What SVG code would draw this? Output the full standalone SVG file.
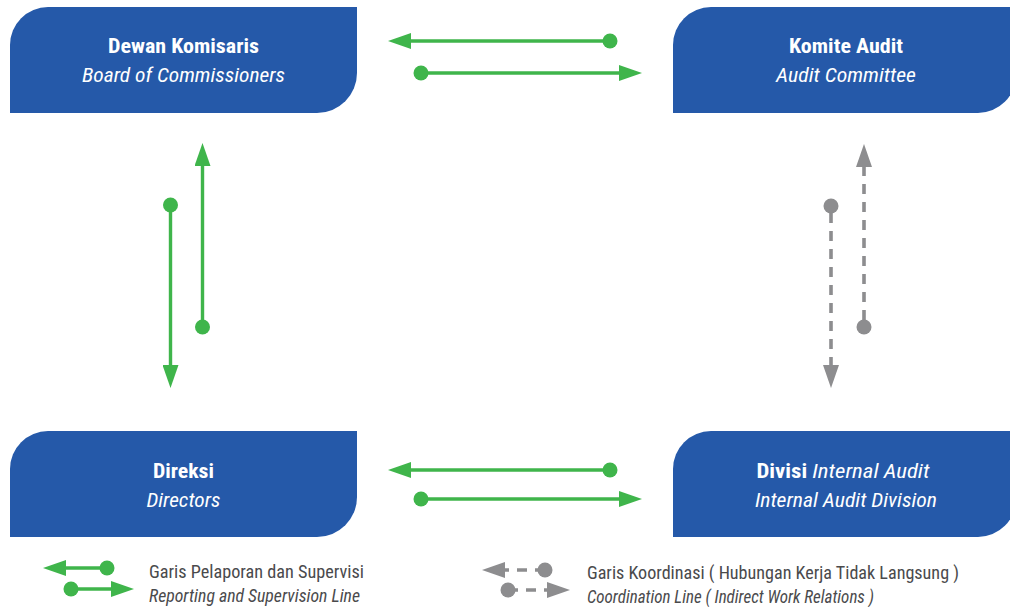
<svg xmlns="http://www.w3.org/2000/svg" width="1010" height="607" viewBox="0 0 1010 607">
  <style>
    .box { fill: #2559a9; }
    .title { font-family: "Roboto Condensed", Roboto, "Liberation Sans", sans-serif; font-size: 21px; font-weight: 700; fill: #ffffff; text-anchor: middle; }
    .sub { font-family: "Roboto Condensed", Roboto, "Liberation Sans", sans-serif; font-size: 21px; font-style: italic; font-weight: 400; fill: #ffffff; text-anchor: middle; }
    .it { font-style: italic; font-weight: 400; }
    .rep { fill: none; stroke: #3fb54b; stroke-width: 3.4; marker-start: url(#dotG); marker-end: url(#headG); }
    .coord { fill: none; stroke: #8d8d8f; stroke-width: 3.6; stroke-dasharray: 10 8; marker-start: url(#dotK); marker-end: url(#headK); }
    .leg { font-family: "Roboto Condensed", Roboto, "Liberation Sans", sans-serif; font-size: 18px; fill: #4a4a4c; }
  </style>
  <defs>
    <marker id="headG" viewBox="0 0 23 16" refX="2" refY="8" markerWidth="23" markerHeight="16" markerUnits="userSpaceOnUse" orient="auto">
      <path d="M0,0 L23,8 L0,16 Z" fill="#3fb54b"/>
    </marker>
    <marker id="dotG" viewBox="0 0 16 16" refX="8" refY="8" markerWidth="16" markerHeight="16" markerUnits="userSpaceOnUse" orient="auto">
      <circle cx="8" cy="8" r="7.5" fill="#3fb54b"/>
    </marker>
    <marker id="headK" viewBox="0 0 23 16" refX="2" refY="8" markerWidth="23" markerHeight="16" markerUnits="userSpaceOnUse" orient="auto">
      <path d="M0,0 L23,8 L0,16 Z" fill="#8d8d8f"/>
    </marker>
    <marker id="dotK" viewBox="0 0 16 16" refX="8" refY="8" markerWidth="16" markerHeight="16" markerUnits="userSpaceOnUse" orient="auto">
      <circle cx="8" cy="8" r="7.5" fill="#8d8d8f"/>
    </marker>
  </defs>

  <!-- Board of Commissioners -->
  <g id="dewan-komisaris">
    <path class="box" d="M10,45 A38,38 0 0 1 48,7 L357,7 L357,73 A40,40 0 0 1 317,113 L10,113 Z"/>
    <text class="title" x="183.5" y="53" textLength="151" lengthAdjust="spacingAndGlyphs">Dewan Komisaris</text>
    <text class="sub" x="183.5" y="82" textLength="203" lengthAdjust="spacingAndGlyphs">Board of Commissioners</text>
  </g>

  <!-- Audit Committee -->
  <g id="komite-audit">
    <path class="box" d="M673,45 A38,38 0 0 1 711,7 L1016,7 L1016,75 A38,38 0 0 1 978,113 L673,113 Z"/>
    <text class="title" x="846" y="53" textLength="114" lengthAdjust="spacingAndGlyphs">Komite Audit</text>
    <text class="sub" x="846" y="82" textLength="140" lengthAdjust="spacingAndGlyphs">Audit Committee</text>
  </g>

  <!-- Directors -->
  <g id="direksi">
    <path class="box" d="M10,469 A38,38 0 0 1 48,431 L357,431 L357,497 A40,40 0 0 1 317,537 L10,537 Z"/>
    <text class="title" x="183.5" y="478" textLength="61" lengthAdjust="spacingAndGlyphs">Direksi</text>
    <text class="sub" x="183.5" y="507" textLength="74" lengthAdjust="spacingAndGlyphs">Directors</text>
  </g>

  <!-- Internal Audit Division -->
  <g id="divisi-internal-audit">
    <path class="box" d="M673,469 A38,38 0 0 1 711,431 L1016,431 L1016,499 A38,38 0 0 1 978,537 L673,537 Z"/>
    <text class="title" x="843" y="478" textLength="173" lengthAdjust="spacingAndGlyphs">Divisi<tspan class="it"> Internal Audit</tspan></text>
    <text class="sub" x="846" y="507" textLength="182" lengthAdjust="spacingAndGlyphs">Internal Audit Division</text>
  </g>

  <!-- Connectors -->
  <g id="connectors">
    <!-- Board <-> Audit Committee -->
    <path class="rep" d="M610,41 L409,41"/>
    <path class="rep" d="M421,73 L621,73"/>
    <!-- Board <-> Directors -->
    <path class="rep" d="M170.5,205 L170.5,367"/>
    <path class="rep" d="M202.5,327 L202.5,164"/>
    <!-- Directors <-> Internal Audit -->
    <path class="rep" d="M610,470 L409,470"/>
    <path class="rep" d="M421,499 L621,499"/>
    <!-- Audit Committee <-> Internal Audit -->
    <path class="coord" d="M831,206 L831,367" stroke-dashoffset="-7"/>
    <path class="coord" d="M864,327 L864,165" stroke-dashoffset="-7"/>
  </g>

  <!-- Legend -->
  <g id="legend">
    <path class="rep" d="M107,568 L64,568"/>
    <path class="rep" d="M71,589 L113,589"/>
    <text class="leg" x="149" y="578" textLength="215" lengthAdjust="spacingAndGlyphs">Garis Pelaporan dan Supervisi</text>
    <text class="leg it" x="149" y="602" textLength="211" lengthAdjust="spacingAndGlyphs">Reporting and Supervision Line</text>

    <path class="coord" d="M545,570 L503,570" stroke-dasharray="0 18 10 9 30"/>
    <path class="coord" d="M508,590 L549,590" stroke-dasharray="0 20 10 9 30"/>
    <text class="leg" x="587" y="579" textLength="372" lengthAdjust="spacingAndGlyphs">Garis Koordinasi ( Hubungan Kerja Tidak Langsung )</text>
    <text class="leg it" x="587" y="603" textLength="287" lengthAdjust="spacingAndGlyphs">Coordination Line ( Indirect Work Relations )</text>
  </g>
</svg>
